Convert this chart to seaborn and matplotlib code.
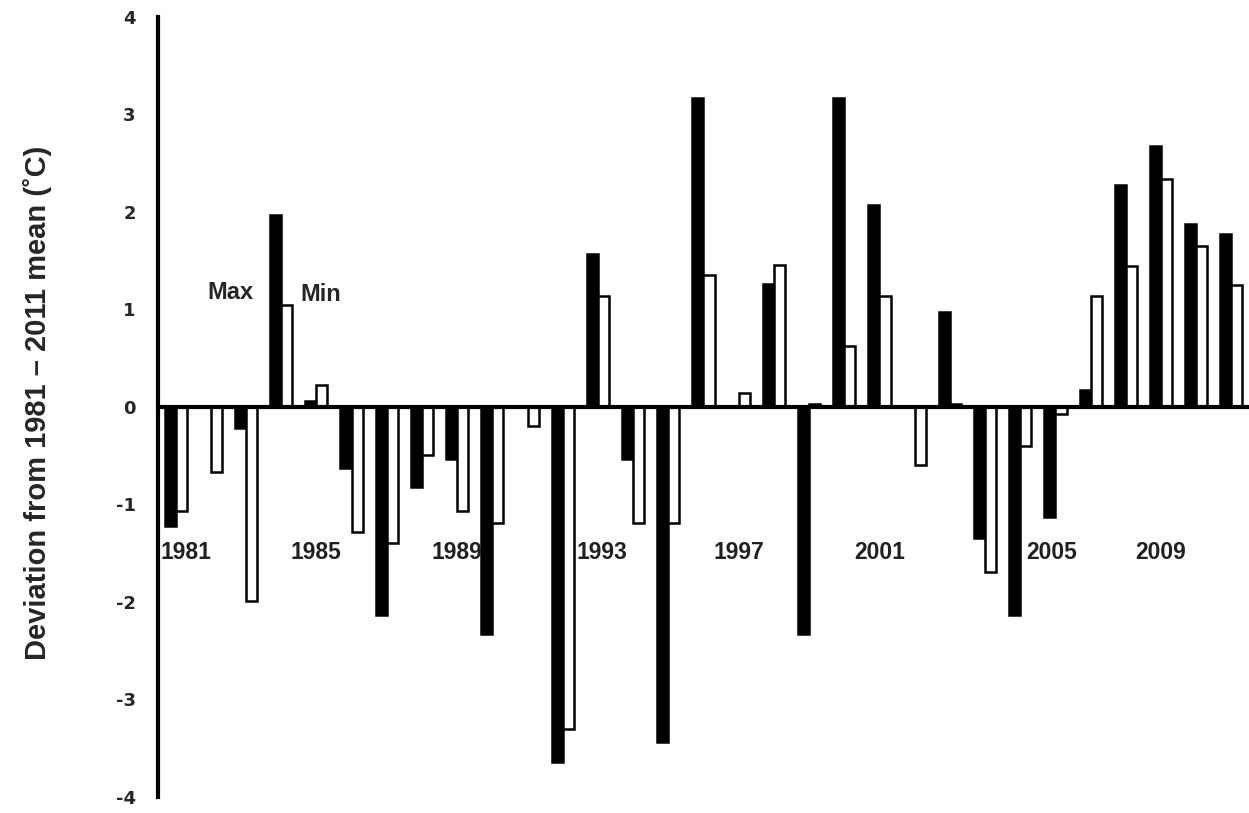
import pandas as pd
import matplotlib
matplotlib.use("Agg")
import matplotlib.pyplot as plt
import seaborn as sns

sns.set_style("white")
plt.rcParams['font.family'] = ['Liberation Sans', 'DejaVu Sans']
plt.rcParams['axes.unicode_minus'] = False

# deviation from the 1981-2011 mean
years = list(range(1981, 2012))
t_max = [-1.22, 0.0, -0.22, 1.97, 0.06, -0.63, -2.13, -0.82, -0.53, -2.33,
         0.0, -3.64, 1.57, -0.53, -3.44, 3.17, 0.0, 1.26, -2.33, 3.17,
         2.07, 0.0, 0.97, -1.34, -2.13, -1.13, 0.17, 2.28, 2.68, 1.88, 1.77]
t_min = [-1.07, -0.67, -1.99, 1.05, 0.23, -1.28, -1.39, -0.49, -1.07, -1.19,
         -0.19, -3.30, 1.14, -1.19, -1.19, 1.35, 0.14, 1.46, 0.03, 0.63,
         1.14, -0.59, 0.03, -1.69, -0.40, -0.07, 1.14, 1.45, 2.34, 1.65, 1.25]
label_years = [1981, 1985, 1989, 1993, 1997, 2001, 2005, 2009]

df = pd.DataFrame({'year': [str(y) for y in years] * 2,
                   'value': t_max + t_min,
                   'series': ['Max'] * len(years) + ['Min'] * len(years)})

fig = plt.figure(figsize=(12.49, 8.13), dpi=100)
ax = fig.add_axes([0.1265, 0.0197, 0.8735, 0.9594])

sns.barplot(data=df, x='year', y='value', hue='series',
            palette={'Max': 'black', 'Min': 'white'},
            width=0.63, edgecolor='black', linewidth=1.8,
            legend=False, ax=ax)

ax.set_xlim(-0.5, len(years) - 0.5)
ax.set_ylim(-4, 4)
ax.set_yticks(range(-4, 5))

# x axis sits at zero, ticks between the years
ax.spines['bottom'].set_position(('data', 0))
ax.spines['top'].set_visible(False)
ax.spines['right'].set_visible(False)
for s in ['left', 'bottom']:
    ax.spines[s].set_linewidth(3)
    ax.spines[s].set_color('black')
ax.set_xticks([i + 0.5 for i in range(len(years))])
ax.set_xticklabels([])
ax.tick_params(axis='x', direction='out', length=5, width=2.2, color='black')
ax.tick_params(axis='y', direction='out', length=6, width=2.5, color='black',
               pad=10, labelsize=13)
plt.setp(ax.get_yticklabels(), fontweight='bold', family='DejaVu Sans')
ax.set_xlabel('')

ax.set_ylabel('Deviation from 1981 \u2013 2011 mean (\u02daC)', fontsize=21,
              fontweight='bold')
ax.yaxis.set_label_coords(-0.097, 0.505)

# year labels inside the plot
nudge = {1981: 0.3, 1993: 0.1, 2005: 0.9}
for y in label_years:
    i = years.index(y)
    ax.text(i + nudge.get(y, 0), -1.49, str(y), ha='center', va='center',
            fontsize=16.5, fontweight='bold', color='#231f20')

ax.text(1.55, 1.17, 'Max', ha='center', va='center', fontsize=17, fontweight='bold')
ax.text(4.13, 1.15, 'Min', ha='center', va='center', fontsize=17, fontweight='bold')

fig.savefig('out.png', dpi=100)
